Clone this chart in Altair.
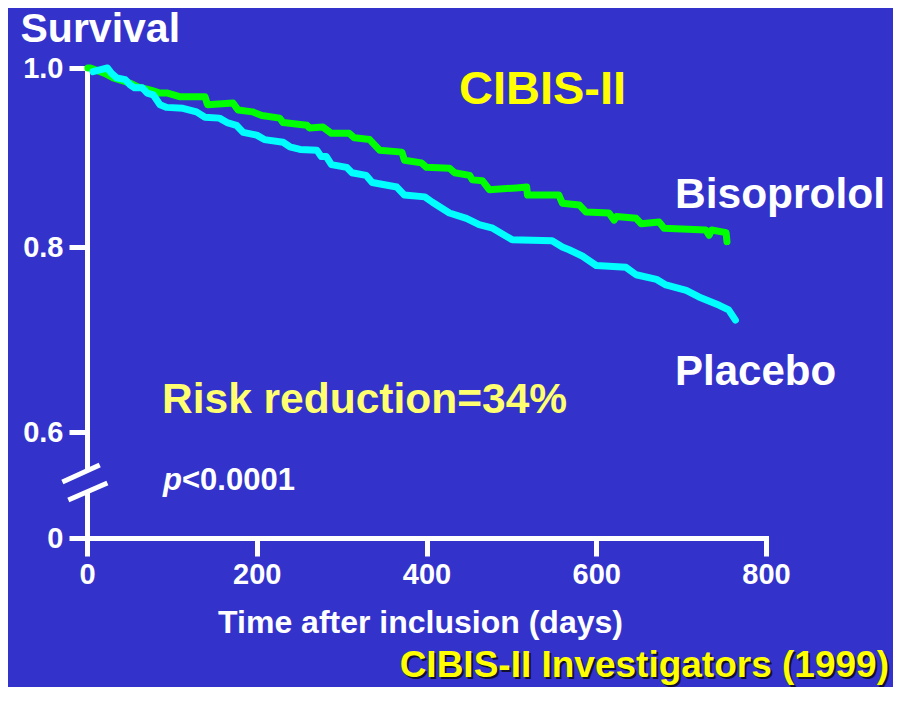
import altair as alt
import pandas as pd

# ---- data ----
bis_days = [1, 4, 21, 31, 51, 60, 76, 86, 95, 109, 139, 142, 172, 178, 195, 206, 227, 231, 259, 262,
            278, 288, 309, 315, 333, 345, 371, 374, 394, 400, 427, 433, 451, 454, 466, 474, 506, 518, 519, 556,
            560, 580, 588, 615, 621, 624, 647, 653, 674, 680, 729, 733, 736, 753, 754]
bis_surv = [1.0, 1.0, 0.994, 0.989, 0.983, 0.979, 0.975, 0.972, 0.972, 0.968, 0.968, 0.959, 0.961, 0.953,
            0.951, 0.947, 0.944, 0.939, 0.936, 0.933, 0.934, 0.927, 0.927, 0.922, 0.920, 0.908, 0.906, 0.897,
            0.894, 0.889, 0.888, 0.883, 0.880, 0.875, 0.874, 0.864, 0.866, 0.867, 0.858, 0.858, 0.849, 0.847,
            0.839, 0.838, 0.830, 0.834, 0.832, 0.826, 0.828, 0.821, 0.819, 0.813, 0.819, 0.816, 0.806]

pla_days = [7, 15, 24, 29, 35, 45, 51, 56, 65, 71, 78, 86, 94, 113, 129, 139, 156, 165, 176, 184,
            200, 209, 231, 239, 251, 271, 276, 282, 288, 306, 312, 329, 336, 365, 374, 398, 407, 427, 447, 462,
            478, 501, 548, 560, 568, 584, 600, 635, 647, 671, 682, 706, 721, 745, 756, 764]
pla_surv = [0.996, 0.998, 1.0, 0.994, 0.989, 0.987, 0.981, 0.978, 0.978, 0.972, 0.970, 0.959, 0.956, 0.955,
            0.951, 0.945, 0.944, 0.939, 0.936, 0.928, 0.925, 0.920, 0.917, 0.912, 0.909, 0.908, 0.901, 0.901,
            0.892, 0.889, 0.883, 0.880, 0.872, 0.867, 0.858, 0.856, 0.850, 0.838, 0.832, 0.825, 0.821, 0.808,
            0.807, 0.800, 0.797, 0.790, 0.780, 0.778, 0.770, 0.765, 0.759, 0.753, 0.746, 0.737, 0.732, 0.721]

x_ticks = [0, 200, 400, 600, 800]
y_ticks = [0, 0.6, 0.8, 1.0]

# axis-break symbol (in data units)
break_gap = {"day": [-6], "day2": [6], "surv": [0.255], "surv2": [0.374]}
break_lines = {"day": [-29, -22], "day2": [15, 24], "surv": [0.317, 0.215], "surv2": [0.413, 0.311]}

BG = "#3333CC"
FONT = "Liberation Sans"
W, H = 679, 470

rows = []
for i, (d, s) in enumerate(zip(bis_days, bis_surv)):
    rows.append({"group": "Bisoprolol", "day": d, "surv": s, "ord": i})
for i, (d, s) in enumerate(zip(pla_days, pla_surv)):
    rows.append({"group": "Placebo", "day": d, "surv": s, "ord": i})
df = pd.DataFrame(rows)

xscale = alt.Scale(domain=[0, 800], nice=False, zero=False)
yscale = alt.Scale(domain=[0, 0.6, 0.8, 1.0], range=[470, 364, 179, 0], nice=False, zero=False)

xaxis = alt.Axis(values=x_ticks, title="Time after inclusion (days)",
                 titleX=333, titleY=94, titleAlign="center", titleBaseline="alphabetic",
                 titleFontSize=32, labelPadding=4, labelFlush=False)
yaxis = alt.Axis(values=y_ticks, title="Survival",
                 labelExpr="datum.value == 0 ? '0' : format(datum.value, '.1f')",
                 titleAngle=0, titleX=-67, titleY=-27, titleAlign="left",
                 titleBaseline="alphabetic", titleFontSize=41, labelPadding=6, labelFlush=False)

lines = alt.Chart(df).mark_line(strokeWidth=7, strokeJoin="round", strokeCap="round").encode(
    x=alt.X("day:Q", scale=xscale, axis=xaxis),
    y=alt.Y("surv:Q", scale=yscale, axis=yaxis),
    color=alt.Color("group:N", scale=alt.Scale(domain=["Bisoprolol", "Placebo"],
                                               range=["#00FF00", "#00FFFF"]), legend=None),
    detail="group:N",
    order="ord:Q",
)

gap = alt.Chart(pd.DataFrame(break_gap)).mark_rect(color=BG).encode(
    x=alt.X("day:Q", title="Time after inclusion (days)"), x2="day2:Q",
    y=alt.Y("surv:Q", title="Survival"), y2="surv2:Q")

brk = alt.Chart(pd.DataFrame(break_lines)).mark_rule(color="white", strokeWidth=5).encode(
    x=alt.X("day:Q", title="Time after inclusion (days)"), x2="day2:Q",
    y=alt.Y("surv:Q", title="Survival"), y2="surv2:Q")


def txt(text, x, y, size, color="white", align="left", style="normal"):
    return alt.Chart(pd.DataFrame({"t": [text]})).mark_text(
        font=FONT, fontSize=size, fontWeight="bold", fontStyle=style, color=color,
        align=align, baseline="alphabetic").encode(
        x=alt.value(x), y=alt.value(y), text="t:N")


texts = [
    txt("CIBIS-II", 372, 36, 47, "#FFFF00"),
    txt("Bisoprolol", 588, 140, 42.5),
    txt("Placebo", 588, 317, 42),
    txt("Risk reduction=34%", 75, 345, 42.5, "#FFFF70"),
    txt("p", 76, 422, 31, style="italic"),
    txt("<0.0001", 95, 422, 31),
    txt("CIBIS-II Investigators (1999)", 804, 611, 37, "#101030", align="right"),
    txt("CIBIS-II Investigators (1999)", 802, 609, 37, "#FFFF00", align="right"),
]

chart = alt.layer(lines, gap, brk, *texts).properties(
    width=W, height=H,
    background=BG,
    padding={"left": 79, "top": 60, "right": 127, "bottom": 149},
    autosize=alt.AutoSizeParams(type="none"),
).configure_view(stroke=None).configure_axis(
    domainColor="white", domainWidth=5, domainCap="square",
    tickColor="white", tickWidth=5, tickSize=18,
    labelColor="white", labelFont=FONT, labelFontSize=29, labelFontWeight="bold",
    titleColor="white", titleFont=FONT, titleFontWeight="bold",
    grid=False,
)

chart.save("out.html", embed_options={"renderer": "svg", "actions": False})
